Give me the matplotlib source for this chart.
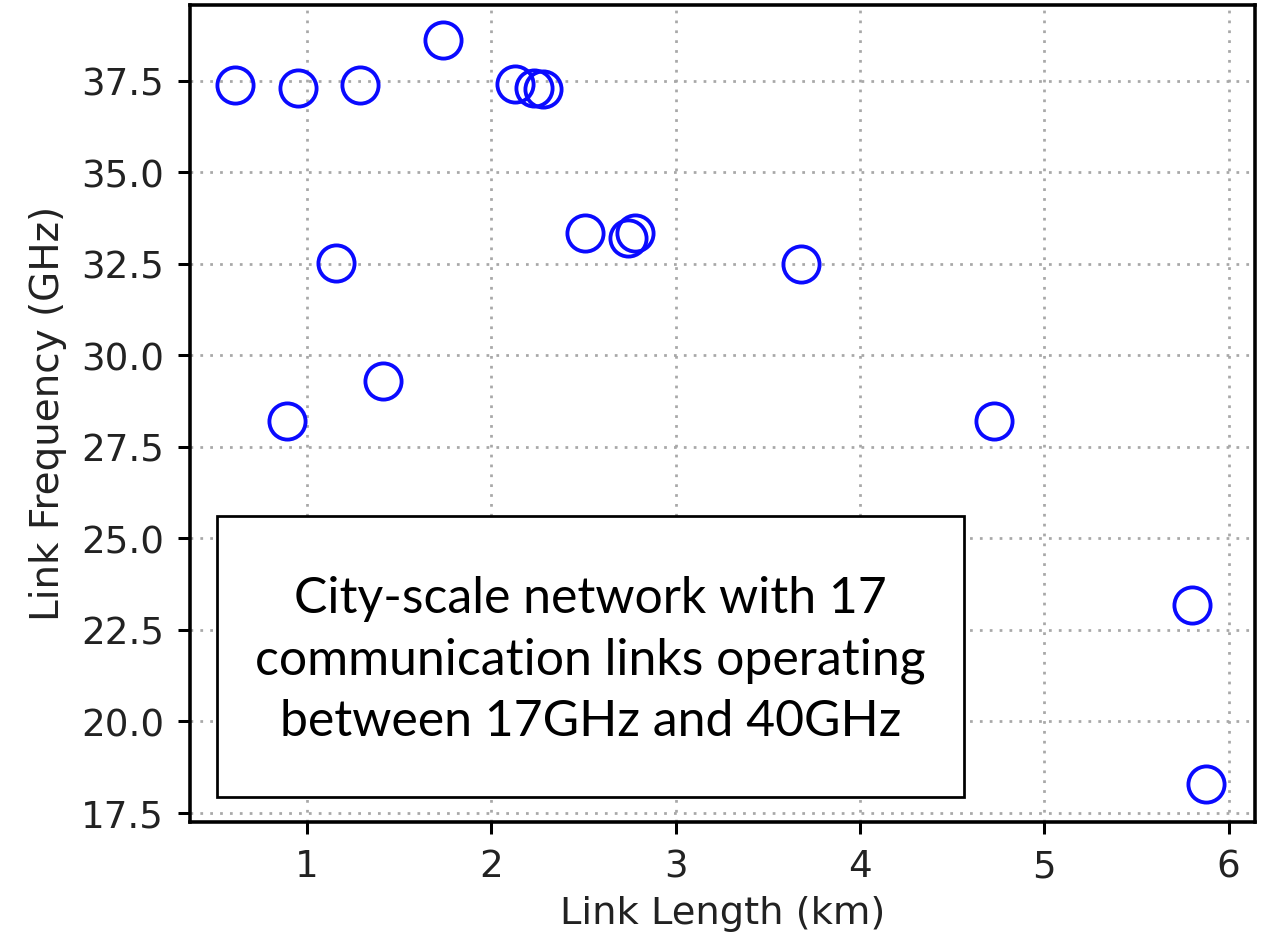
import matplotlib
matplotlib.use("Agg")
import matplotlib.pyplot as plt
from matplotlib.patches import Rectangle

# Link length (km) and operating frequency (GHz) of each link
link_length_km = [0.61, 0.95, 1.29, 1.74, 2.13, 2.23, 2.28, 2.51, 2.74, 2.78,
                  1.16, 3.68, 1.41, 0.89, 4.73, 5.80, 5.88]
link_freq_ghz = [37.39, 37.31, 37.39, 38.62, 37.40, 37.30, 37.27, 33.35, 33.20, 33.35,
                 32.52, 32.50, 29.30, 28.21, 28.21, 23.18, 18.29]

x_ticks = [1, 2, 3, 4, 5, 6]
y_ticks = [17.5, 20.0, 22.5, 25.0, 27.5, 30.0, 32.5, 35.0, 37.5]

box_lines = ["City-scale network with 17",
             "communication links operating",
             "between 17GHz and 40GHz"]

plt.rcParams["font.family"] = "DejaVu Sans"

fig = plt.figure(figsize=(6.4, 4.75), dpi=197.35)
ax = fig.add_axes([0.1504, 0.1227, 0.8433, 0.8720])

ax.plot(link_length_km, link_freq_ghz, linestyle="none", marker="o",
        markersize=13.2, markerfacecolor="none", markeredgecolor="#0a0aff",
        markeredgewidth=1.4, zorder=3)

ax.set_xlim(0.365, 6.144)
ax.set_ylim(17.25, 39.58)
ax.set_xticks(x_ticks)
ax.set_yticks(y_ticks)
ax.set_yticklabels([f"{v:.1f}" for v in y_ticks])

ax.grid(True, color="#a8a8a8", linestyle=(0, (1, 2.6)), linewidth=1.0)
ax.set_axisbelow(True)

for s in ax.spines.values():
    s.set_linewidth(1.3)
    s.set_color("black")
ax.tick_params(axis="both", labelsize=13.6, length=4.5, width=1.1,
               colors="black", labelcolor="#222222", pad=5)

ax.set_xlabel("Link Length (km)", fontsize=14, color="#222222", labelpad=4)
ax.set_ylabel("Link Frequency (GHz)", fontsize=14.2, color="#222222", labelpad=5)

# Annotation box describing the network
ax.add_patch(Rectangle((0.0254, 0.0306), 0.7014, 0.3439, transform=ax.transAxes,
                       facecolor="white", edgecolor="black", linewidth=1.0, zorder=4))
ax.text(0.3761, 0.198, "\n".join(box_lines), transform=ax.transAxes,
        ha="center", va="center", fontsize=18.2, family="Lato",
        linespacing=1.42, color="black", zorder=5)

fig.savefig("out.png", dpi=197.35)
